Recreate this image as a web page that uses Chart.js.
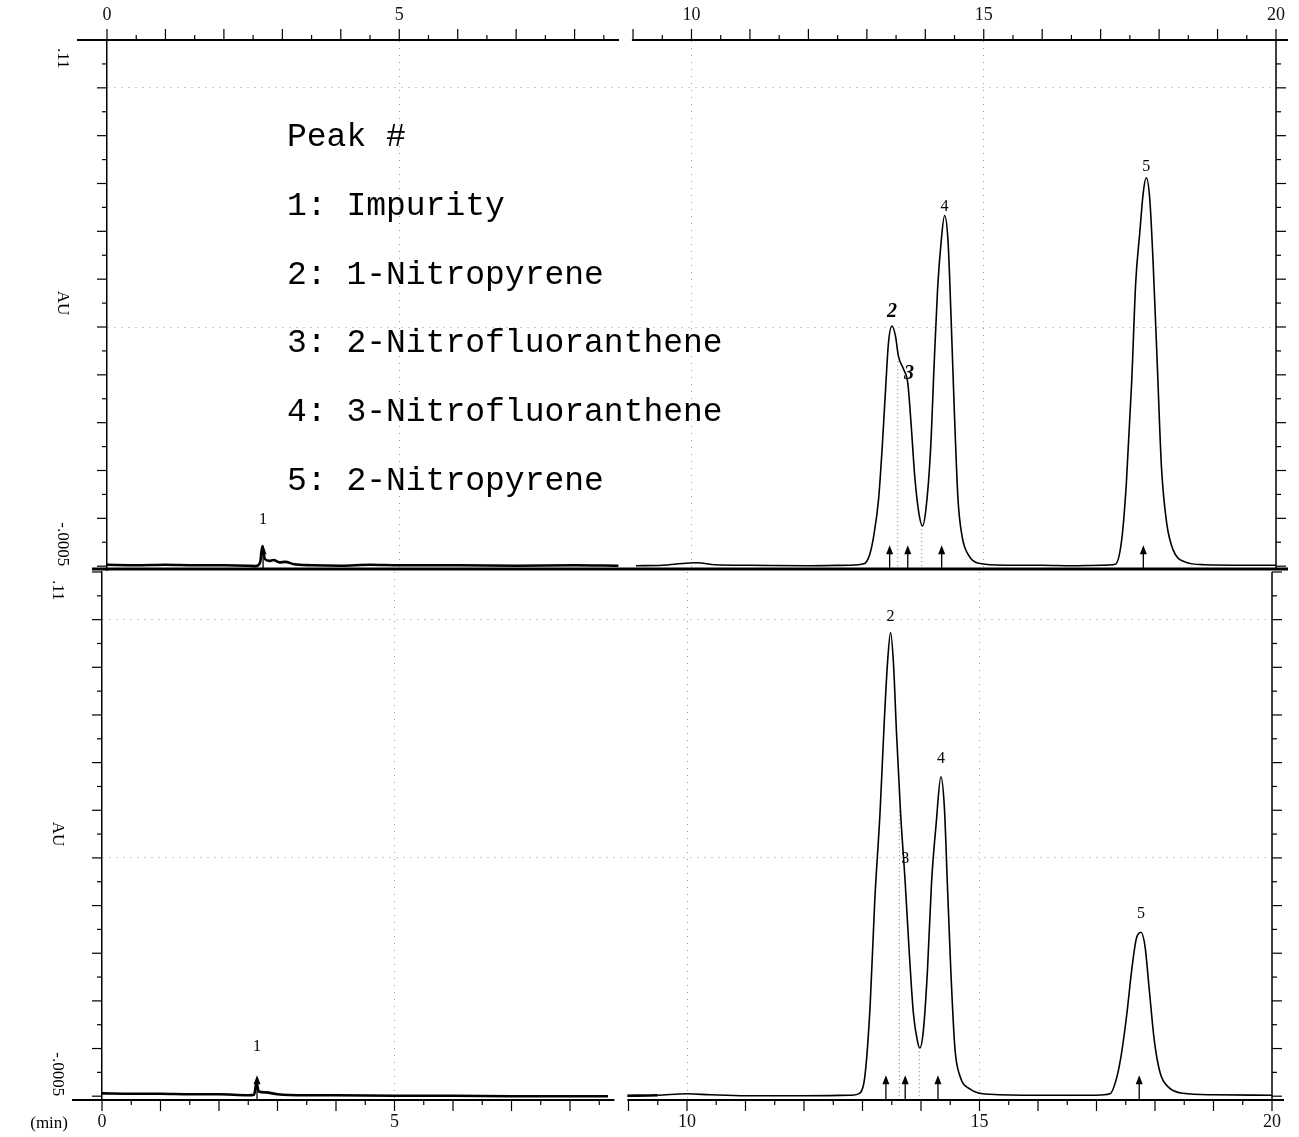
<!DOCTYPE html>
<html>
<head>
<meta charset="utf-8">
<script src="https://cdn.jsdelivr.net/npm/chart.js@4.4.1/dist/chart.umd.min.js"></script>
<style>
  html, body { margin: 0; padding: 0; background: #fff; }
  #wrap { position: relative; width: 1299px; height: 1137px; }
  canvas { position: absolute; left: 0; }
  #top { top: 0; }
  #bottom { top: 570px; }
</style>
</head>
<body>
<div id="wrap">
  <canvas id="top" width="1299" height="572"></canvas>
  <canvas id="bottom" width="1299" height="567"></canvas>
</div>
<script>
// upper trace (min / AU), null = break between the two recorder sheets
const topTime = [0,0.5,1,1.5,2,2.4,2.55,2.62,2.66,2.7,2.78,2.85,2.95,3.05,3.2,3.5,4,4.5,5,6,7,8,8.75,8.9,9.05,9.5,9.9,10.1,10.4,11,12,12.7,12.95,13.05,13.12,13.2,13.26,13.32,13.37,13.43,13.49,13.54,13.63,13.7,13.76,13.82,13.89,13.95,14.01,14.09,14.15,14.21,14.27,14.33,14.39,14.44,14.5,14.56,14.63,14.74,14.91,15.37,16,16.5,17,17.25,17.36,17.44,17.53,17.6,17.67,17.73,17.78,17.84,17.9,17.97,18.04,18.13,18.24,18.44,18.78,19.5,20];
const topAU = [0.0003,0.0002,0.0003,0.0002,0.0002,0.0001,0,0.0008,0.0042,0.0015,0.0011,0.0013,0.0008,0.0009,0.0004,0.0002,0.0001,0.0003,0.0002,0.0002,0.0001,0.0002,0.0001,null,0.0001,0.0002,0.0006,0.0007,0.0003,0.0002,0.0001,0.0002,0.0005,0.0025,0.0065,0.0139,0.0243,0.0369,0.0467,0.0502,0.0481,0.0439,0.0411,0.0383,0.0292,0.0187,0.0111,0.0084,0.0118,0.0243,0.0418,0.0579,0.0677,0.0733,0.0677,0.0523,0.0313,0.0139,0.0062,0.0023,0.0006,0.0002,0.0002,0.0001,0.0002,0.0004,0.0055,0.0174,0.0383,0.0593,0.0698,0.0782,0.0812,0.0768,0.0628,0.0418,0.0208,0.0090,0.0034,0.0009,0.0003,0.0002,0.0002];

// lower trace
const botTime = [0,0.5,1,1.5,2,2.5,2.6,2.64,2.68,2.8,3,3.5,4,5,6,7,8,8.65,8.8,8.95,9.5,10,10.4,11,12,12.8,12.96,13.04,13.13,13.21,13.3,13.37,13.43,13.48,13.53,13.58,13.65,13.73,13.8,13.87,13.94,13.98,14.04,14.11,14.18,14.26,14.34,14.4,14.45,14.51,14.58,14.67,14.84,15.18,16,17,17.23,17.35,17.43,17.52,17.6,17.68,17.76,17.83,17.9,17.99,18.09,18.23,18.48,19,20];
const botAU = [0.0006,0.0005,0.0005,0.0004,0.0004,0.0002,0.0003,0.0028,0.0010,0.0008,0.0004,0.0002,0.0002,0.0001,0.0001,0,0,0,null,0.0001,0.0002,0.0005,0.0003,0.0001,0.0001,0.0002,0.0007,0.0041,0.0189,0.0411,0.0596,0.0781,0.0914,0.0973,0.0907,0.0766,0.0596,0.0448,0.0300,0.0174,0.0115,0.0101,0.0137,0.0263,0.0448,0.0573,0.0670,0.0605,0.0448,0.0263,0.0100,0.0041,0.0015,0.0004,0.0002,0.0002,0.0005,0.0041,0.0092,0.0174,0.0263,0.0330,0.0344,0.0314,0.0226,0.0115,0.0048,0.0019,0.0006,0.0003,0.0002];

// peak numbers and where they are written
const peakNums = ['1', '2', '3', '4', '5'];
const topLabelTime = [2.67, 13.43, 13.72, 14.33, 17.78];
const topLabelAU = [0.0081, 0.0510, 0.0381, 0.0735, 0.0818];
const botLabelTime = [2.65, 13.48, 13.73, 14.34, 17.76];
const botLabelAU = [0.0087, 0.0989, 0.0481, 0.0691, 0.0366];

// integration marks (arrows) and drop lines
const topArrowTime = [2.67, 13.39, 13.70, 14.28, 17.73];
const botArrowTime = [2.65, 13.40, 13.73, 14.29, 17.73];
const topDropTime = [13.53, 13.94];
const topDropAU = [0.043, 0.0086];
const botDropTime = [13.63, 13.97];
const botDropAU = [0.060, 0.0102];

// axes
const xMajor = [0, 5, 10, 15, 20];
const xTicks = [];
for (let t = 0; t <= 20; t += 0.5) xTicks.push(t);
const yTicks = [];
for (let i = 0; i <= 22; i++) yTicks.push(+(i * 0.005).toFixed(3));
const yGrid = [0.05, 0.1];
const yMin = -0.0008, yMax = 0.11;
const yTexts = ['.11', 'AU', '-.0005'];

const legendLines = [
  'Peak #',
  '1: Impurity',
  '2: 1-Nitropyrene',
  '3: 2-Nitrofluoranthene',
  '4: 3-Nitrofluoranthene',
  '5: 2-Nitropyrene'
];

const toPoints = (xs, ys) => xs.map((x, i) => ({ x: x, y: ys[i] }));
const dropPoints = (xs, ys) => {
  const pts = [];
  xs.forEach((x, i) => {
    pts.push({ x: x, y: 0 }, { x: x, y: ys[i] }, { x: x, y: null });
  });
  return pts;
};

function line(ctx, x1, y1, x2, y2) {
  ctx.beginPath();
  ctx.moveTo(x1, y1);
  ctx.lineTo(x2, y2);
  ctx.stroke();
}

function makeDecor(p) {
  return {
    id: 'decor',
    afterDraw(chart) {
      const ctx = chart.ctx;
      const a = chart.chartArea;
      const x = chart.scales.x, y = chart.scales.y;
      ctx.save();
      ctx.strokeStyle = '#000';
      ctx.fillStyle = '#000';

      // right frame line
      ctx.lineWidth = 1.5;
      line(ctx, a.right, a.top, a.right, a.bottom);

      // time axis runs a little past the frame
      ctx.lineWidth = 2;
      const ay = p.axisTop ? a.top : a.bottom;
      line(ctx, a.left - 30, ay, a.left, ay);
      line(ctx, a.right, ay, a.right + 12, ay);

      // y ticks on both sides
      ctx.lineWidth = 1.2;
      yTicks.forEach(v => {
        const py = y.getPixelForValue(v);
        const len = Math.round(v * 1000) % 10 === 0 ? 10 : 5;
        line(ctx, a.left - len, py, a.left, py);
        line(ctx, a.right, py, a.right + len, py);
      });

      // time ticks
      xTicks.forEach(t => {
        const px = x.getPixelForValue(t);
        const len = Number.isInteger(t) ? 11 : 5;
        if (p.axisTop) line(ctx, px, a.top - len, px, a.top);
        else line(ctx, px, a.bottom, px, a.bottom + len);
      });

      // break in the time axis
      const g1 = x.getPixelForValue(8.76), g2 = x.getPixelForValue(8.98);
      ctx.fillStyle = '#fff';
      ctx.fillRect(g1, ay - 13, g2 - g1, 17);
      ctx.fillStyle = '#000';

      // separator under the upper panel
      if (p.axisTop) {
        ctx.lineWidth = 3;
        line(ctx, a.left - 15, a.bottom - 1, a.right + 12, a.bottom - 1);
      }

      // rotated y texts
      ctx.font = '17px "Liberation Serif"';
      ctx.textBaseline = 'middle';
      const tx = a.left - 45;
      const drawRot = (txt, py, align) => {
        ctx.save();
        ctx.translate(tx, py);
        ctx.rotate(Math.PI / 2);
        ctx.textAlign = align;
        ctx.fillText(txt, 0, 0);
        ctx.restore();
      };
      drawRot(yTexts[0], a.top + 8, 'left');
      drawRot(yTexts[1], y.getPixelForValue(0.055), 'center');
      drawRot(yTexts[2], y.getPixelForValue(0), 'right');

      // "(min)" on the lower axis
      if (!p.axisTop) {
        ctx.font = '17px "Liberation Serif"';
        ctx.textAlign = 'right';
        ctx.fillText('(min)', x.getPixelForValue(0) - 34, a.bottom + 24);
      }

      // peak numbers (the upper 2 and 3 are hand-written, larger)
      ctx.textAlign = 'center';
      ctx.textBaseline = 'bottom';
      peakNums.forEach((n, i) => {
        ctx.font = p.bigLabels.includes(i) ? 'bold italic 20px "Liberation Serif"' : '16px "Liberation Serif"';
        ctx.fillText(n, x.getPixelForValue(p.labelTime[i]), y.getPixelForValue(p.labelAU[i]));
      });

      // arrows at the baseline
      ctx.lineWidth = 1.3;
      const y0 = y.getPixelForValue(0);
      p.arrowTime.forEach(t => {
        const px = x.getPixelForValue(t);
        line(ctx, px, y0 + 3, px, y0 - 14);
        ctx.beginPath();
        ctx.moveTo(px, y0 - 21);
        ctx.lineTo(px - 3.5, y0 - 12);
        ctx.lineTo(px + 3.5, y0 - 12);
        ctx.closePath();
        ctx.fill();
      });

      // legend text
      if (p.legend) {
        ctx.font = '33px "Liberation Mono"';
        ctx.textAlign = 'left';
        ctx.textBaseline = 'alphabetic';
        legendLines.forEach((s, i) => {
          ctx.fillText(s, 287, 146 + i * 68.8);
        });
      }
      ctx.restore();
    }
  };
}

function makePanel(id, p) {
  const gridColor = '#9a9a9a';
  return new Chart(document.getElementById(id), {
    type: 'line',
    data: {
      datasets: [
        {
          data: toPoints(p.time, p.au),
          borderColor: '#000',
          borderWidth: 1.6,
          segment: { borderWidth: c => c.p0.parsed.x < 9 ? 2.6 : 1.6 },
          pointRadius: 0,
          cubicInterpolationMode: 'monotone',
          spanGaps: false
        },
        {
          data: dropPoints(p.dropTime, p.dropAU),
          borderColor: '#777',
          borderWidth: 1,
          borderDash: [1, 3],
          pointRadius: 0,
          tension: 0,
          spanGaps: false
        }
      ]
    },
    options: {
      responsive: false,
      animation: false,
      events: [],
      layout: { padding: p.padding },
      plugins: { legend: { display: false }, tooltip: { enabled: false } },
      scales: {
        x: {
          type: 'linear',
          position: p.axisTop ? 'top' : 'bottom',
          min: 0,
          max: 20,
          afterBuildTicks: s => { s.ticks = xTicks.map(v => ({ value: v })); },
          afterFit: s => { s.height = p.xHeight; },
          ticks: {
            autoSkip: false,
            maxRotation: 0,
            padding: p.axisTop ? 14 : 11,
            color: '#111',
            font: { family: 'Liberation Serif', size: 18 },
            callback: v => xMajor.includes(v) ? String(v) : ''
          },
          grid: {
            drawTicks: false,
            lineWidth: 1,
            color: c => (c.tick && [5, 10, 15].includes(c.tick.value)) ? gridColor : 'transparent'
          },
          border: { display: true, color: '#000', width: 2, dash: [1, 6] }
        },
        y: {
          type: 'linear',
          min: yMin,
          max: yMax,
          afterBuildTicks: s => { s.ticks = yTicks.map(v => ({ value: v })); },
          afterFit: s => { s.width = p.yWidth; },
          ticks: { display: false },
          grid: {
            drawTicks: false,
            lineWidth: 1,
            color: c => (c.tick && yGrid.some(g => Math.abs(g - c.tick.value) < 1e-9)) ? gridColor : 'transparent'
          },
          border: { display: true, color: '#000', width: 1.5, dash: [1, 6] }
        }
      }
    },
    plugins: [makeDecor(p)]
  });
}

makePanel('top', {
  time: topTime, au: topAU,
  labelTime: topLabelTime, labelAU: topLabelAU,
  arrowTime: topArrowTime,
  dropTime: topDropTime, dropAU: topDropAU,
  bigLabels: [1, 2],
  axisTop: true, legend: true,
  xHeight: 40, yWidth: 107,
  padding: { left: 0, right: 21, top: 0, bottom: 2 }
});

makePanel('bottom', {
  time: botTime, au: botAU,
  labelTime: botLabelTime, labelAU: botLabelAU,
  arrowTime: botArrowTime,
  dropTime: botDropTime, dropAU: botDropAU,
  bigLabels: [],
  axisTop: false, legend: false,
  xHeight: 37, yWidth: 102,
  padding: { left: 0, right: 27, top: 2, bottom: 0 }
});
</script>
</body>
</html>
